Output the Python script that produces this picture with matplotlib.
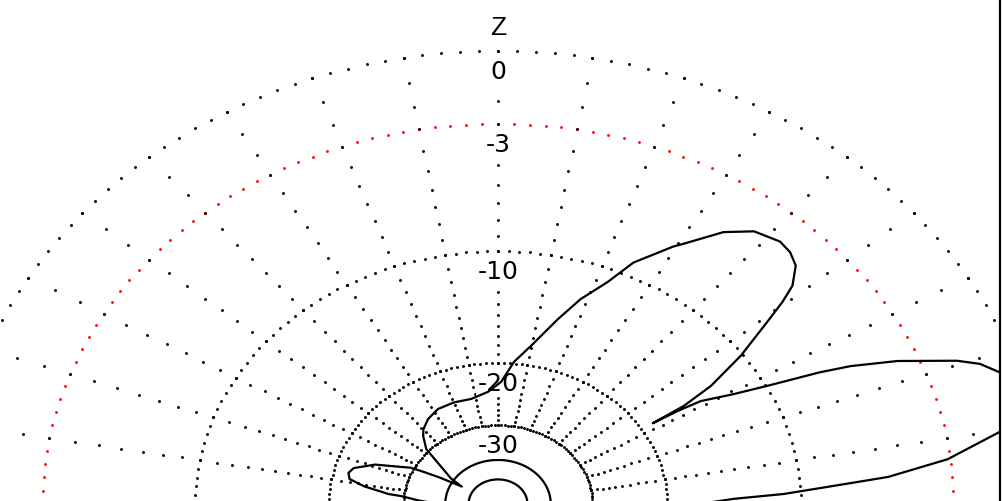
import numpy as np
import matplotlib
matplotlib.use("Agg")
import matplotlib.pyplot as plt
from matplotlib.lines import Line2D
from matplotlib.patches import Rectangle

# Elevation pattern: angle above the horizon (deg) and gain relative to the maximum (dB)
elevation_deg = [0, 1.5, 2.4, 3.7, 4.75, 6.8, 9.75, 12, 14, 16, 17.5, 19.2, 20.5,
                 23.2, 25.1, 26.1, 27.7, 29.2, 31.3, 31.8, 32.0, 32.3, 33.6, 36.2,
                 39.0, 40.4, 41.6, 43.8, 45.9, 48.1, 51.9, 55.3, 59.2, 60.4, 64.9,
                 67.6, 71.4, 74.9, 80.1, 84.6, 88.8, 94.2, 102, 109.8, 117.8, 124.5,
                 129.8, 132.6, 137.5, 147, 150, 151.5, 152.6, 153.5, 159, 163.4,
                 166, 168.6, 171, 173.8, 174.4, 177, 180]
gain_db = [-17.0, -14.3, -11.0, -8.2, -5.6, -3.1, -1.1, -0.3, 0.0, -0.2, -0.55, -1.05,
           -1.75, -3.8, -5.7, -7.1, -9.9, -12.0, -14.2, -16.2, -18.7, -15.5, -12.9,
           -10.1, -7.7, -6.4, -5.5, -4.7, -4.4, -4.3, -4.6, -5.4, -6.9, -7.3, -9.1,
           -10.9, -12.7, -14.8, -17.8, -19.8, -22.5, -23.9, -24.7, -24.6, -24.7,
           -25.4, -26.4, -27.3, -29.5, -39.0, -44.0, -36.0, -32.2, -29.5, -24.3,
           -22.0, -21.6, -21.9, -23.8, -27.4, -29.5, -33.0, -38.0]

# Grid definition
dotted_rings_db = [0, -10, -20, -30]
half_power_ring_db = -3
solid_rings_db = [-40, -50]
ring_labels = ["0", "-3", "-10", "-20", "-30"]
ring_label_levels = [0, -3, -10, -20, -30]
spoke_angles_deg = list(range(0, 181, 10))
spoke_steps_db = list(range(0, -31, -1))
axis_label = "Z"


# ARRL-style log radial scale: every 2 dB shrinks the radius by a factor 0.89
def arrl_forward(db):
    db = np.asarray(db, dtype=float)
    return 0.89 ** (-db / 2.0)


def arrl_inverse(r):
    r = np.clip(np.asarray(r, dtype=float), 1e-300, None)
    return -2.0 * np.log(r) / np.log(0.89)


W, H = 1003, 502
fig = plt.figure(figsize=(W / 100, H / 100), dpi=100)
fig.patch.set_facecolor("white")

# pattern centre and outer (0 dB) semi-axes in pixels
cx, cy, rx, ry = 498.0, 505.0, 542.5, 453.0
ax = fig.add_axes([(cx - rx) / W, (H - cy - ry) / H, 2 * rx / W, 2 * ry / H],
                  projection="polar")
ax.set_aspect("auto")
ax.set_rscale("function", functions=(arrl_forward, arrl_inverse))
ax.set_rlim(-400, 0)
ax.grid(False)
ax.set_xticks([])
ax.set_yticks([])
ax.spines["polar"].set_visible(False)
ax.patch.set_alpha(0)

dot = dict(ls="none", marker="o", ms=2.1, mew=0, clip_on=False)
ring_theta = np.deg2rad(np.arange(0, 360, 2.0))

for level in dotted_rings_db:
    ax.plot(ring_theta, np.full_like(ring_theta, level), color="black", zorder=2, **dot)
ax.plot(ring_theta, np.full_like(ring_theta, half_power_ring_db), color="#ff1010",
        zorder=2, **dot)

fine_theta = np.deg2rad(np.linspace(0, 360, 721))
for level in solid_rings_db:
    ax.plot(fine_theta, np.full_like(fine_theta, level), color="black", lw=1.6, zorder=3)

for ang in spoke_angles_deg:
    ax.plot(np.full(len(spoke_steps_db), np.deg2rad(ang)), spoke_steps_db,
            color="black", zorder=2, **dot)

label_font = ["Liberation Sans Narrow", "DejaVu Sans"]
for text, level in zip(ring_labels, ring_label_levels):
    ax.annotate(text, xy=(np.pi / 2, level), xytext=(0, -14.5), textcoords="offset points",
                ha="center", va="center", fontsize=18, family=label_font,
                bbox=dict(boxstyle="square,pad=0.05", fc="white", ec="none"),
                zorder=4, annotation_clip=False)

ax.annotate(axis_label, xy=(np.pi / 2, 0), xytext=(0, 17), textcoords="offset points",
            ha="center", va="center", fontsize=19,
            family=["Liberation Sans", "DejaVu Sans"], zorder=4, annotation_clip=False)

ax.plot(np.deg2rad(elevation_deg), gain_db, color="black", lw=1.6, zorder=5,
        clip_on=False)

# window frame on the right
fig.add_artist(Rectangle((1001 / W, 0), 2 / W, 1, transform=fig.transFigure,
                         fc="white", ec="none", zorder=10))
fig.add_artist(Line2D([1000.5 / W, 1000.5 / W], [0, 1], transform=fig.transFigure,
                      color="black", lw=1.6, zorder=11))

fig.savefig("out.png", dpi=100, facecolor="white")
